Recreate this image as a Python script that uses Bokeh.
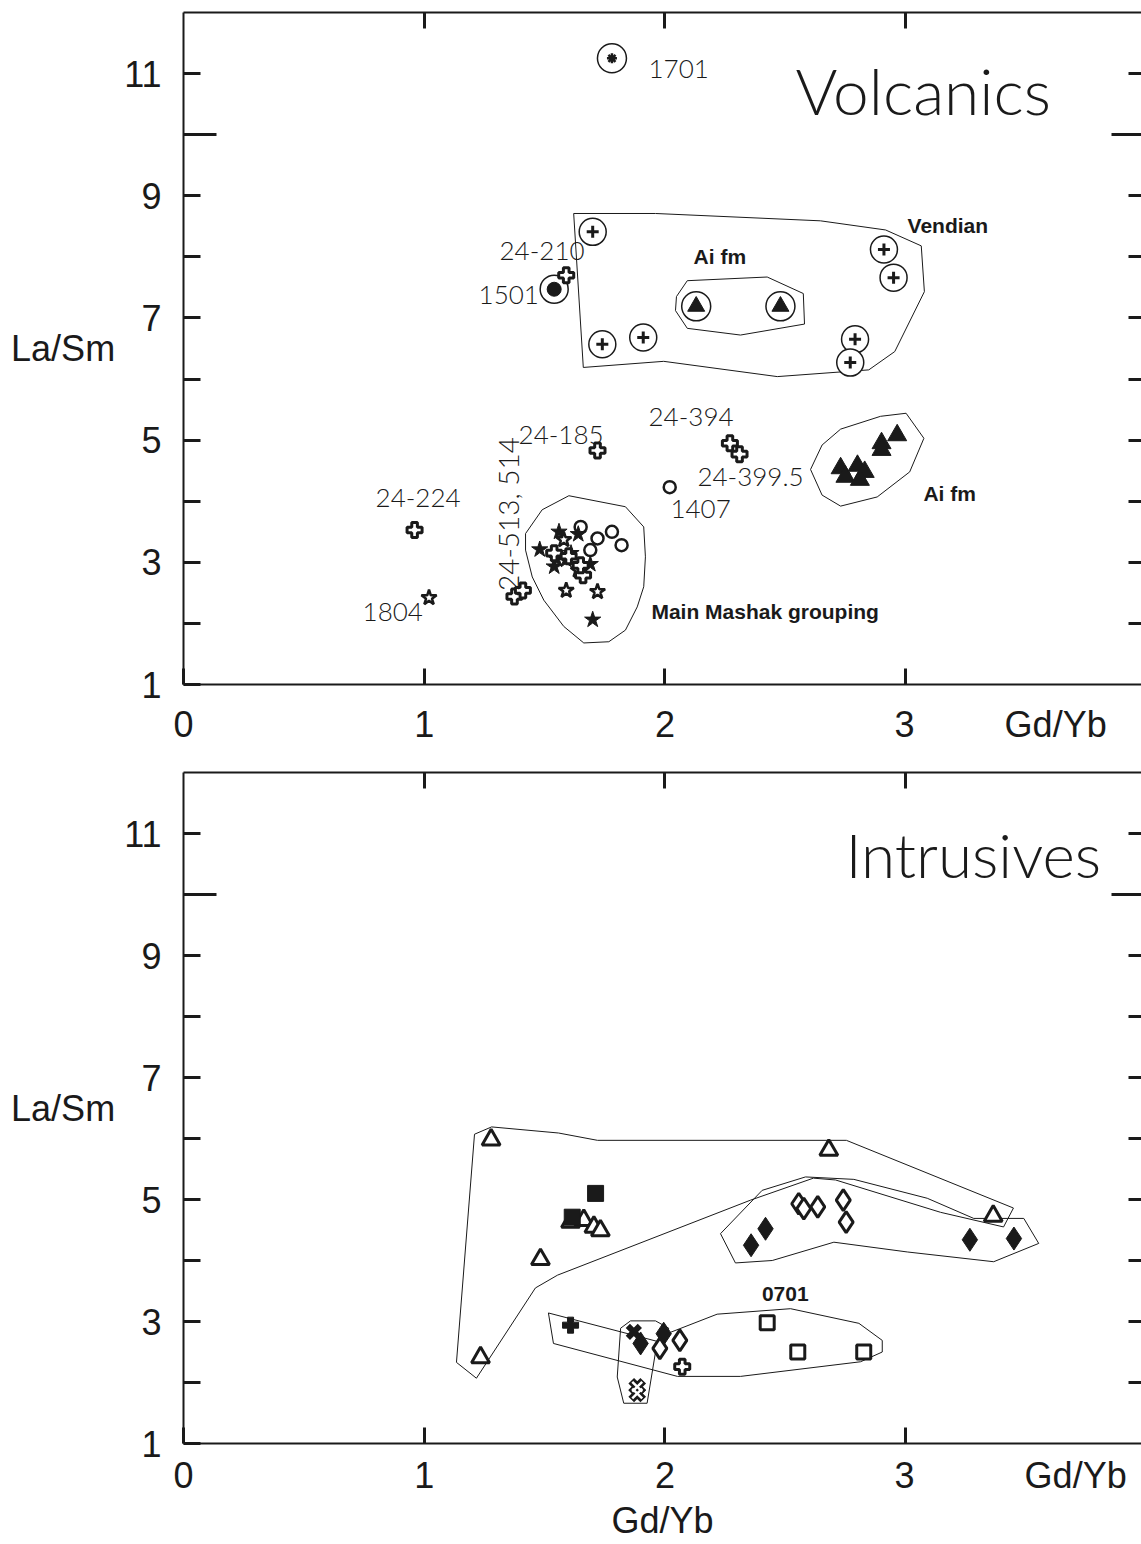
import math
from bokeh.plotting import figure
from bokeh.models import Range1d, LinearAxis, FixedTicker, Label
from bokeh.layouts import column
from bokeh.embed import file_html
from bokeh.resources import INLINE
from bokeh.core.properties import value

# ---------------- Volcanics: Gd/Yb (x) vs La/Sm (y) ----------------
vendian_gdyb = [1.70, 1.74, 1.91, 2.91, 2.95, 2.79, 2.77]
vendian_lasm = [8.41, 6.57, 6.68, 8.12, 7.66, 6.65, 6.27]
aifm_ring_gdyb = [2.13, 2.48]
aifm_ring_lasm = [7.19, 7.19]
aifm_tri_gdyb = [2.965, 2.90, 2.90, 2.73, 2.75, 2.80, 2.83, 2.81]
aifm_tri_lasm = [5.08, 4.95, 4.84, 4.54, 4.40, 4.58, 4.48, 4.35]
s1701_gdyb = [1.78]
s1701_lasm = [11.25]
s1501_gdyb = [1.54]
s1501_lasm = [7.47]
cross_gdyb = [1.59, 1.72, 0.96, 2.27, 2.31, 1.375, 1.41, 1.54, 1.66, 1.60, 1.65]
cross_lasm = [7.70, 4.83, 3.53, 4.95, 4.77, 2.44, 2.54, 3.15, 2.79, 3.10, 2.95]
open_star_gdyb = [1.02, 1.59, 1.72, 1.64, 1.58]
open_star_lasm = [2.42, 2.54, 2.52, 2.87, 3.37]
star_gdyb = [1.48, 1.56, 1.64, 1.54, 1.69, 1.70, 1.59, 1.61, 1.55]
star_lasm = [3.21, 3.50, 3.46, 2.93, 2.97, 2.06, 3.04, 3.15, 3.05]
ring_gdyb = [2.02, 1.65, 1.72, 1.78, 1.82, 1.69]
ring_lasm = [4.23, 3.58, 3.39, 3.50, 3.28, 3.20]

# field outlines (Volcanics)
vendian_field_x = [1.621, 1.961, 2.646, 2.917, 3.065, 3.078, 2.955, 2.847, 2.467, 1.995, 1.661]
vendian_field_y = [8.71, 8.71, 8.59, 8.44, 8.18, 7.43, 6.45, 6.15, 6.04, 6.29, 6.19]
aifm_upper_field_x = [2.093, 2.425, 2.575, 2.580, 2.314, 2.093, 2.044, 2.048]
aifm_upper_field_y = [7.61, 7.67, 7.40, 6.90, 6.72, 6.83, 7.12, 7.35]
aifm_lower_field_x = [2.605, 2.653, 2.730, 2.896, 3.002, 3.076, 3.017, 2.882, 2.730, 2.653]
aifm_lower_field_y = [4.52, 4.92, 5.18, 5.39, 5.44, 5.03, 4.48, 4.07, 3.92, 4.10]
mashak_field_x = [1.421, 1.490, 1.601, 1.836, 1.912, 1.919, 1.912, 1.885, 1.836, 1.767,
                  1.663, 1.580, 1.497, 1.449, 1.421]
mashak_field_y = [3.47, 3.86, 4.09, 3.91, 3.58, 3.09, 2.60, 2.27, 1.89, 1.70,
                  1.68, 1.95, 2.38, 2.76, 3.20]

# sample labels (Volcanics)
volc_ids = ["1701", "24-210", "1501", "24-185", "24-224", "1804", "24-394", "24-399.5", "1407"]
volc_id_x = [1.932, 1.313, 1.226, 1.392, 0.798, 0.744, 1.932, 2.135, 2.023]
volc_id_y = [11.07, 8.09, 7.37, 5.08, 4.05, 2.19, 5.38, 4.40, 3.87]
volc_groups = ["Ai fm", "Vendian", "Ai fm", "Main Mashak grouping"]
volc_group_x = [2.119, 3.008, 3.074, 1.944]
volc_group_y = [8.00, 8.52, 4.13, 2.20]

# ---------------- Intrusives ----------------
open_tri_gdyb = [1.278, 1.483, 1.234, 1.608, 1.663, 1.705, 1.732, 2.681, 3.364]
open_tri_lasm = [5.98, 4.02, 2.41, 4.63, 4.66, 4.55, 4.49, 5.81, 4.73]
sq_gdyb = [1.712, 1.615]
sq_lasm = [5.10, 4.71]
dia_gdyb = [2.358, 2.418, 3.267, 3.450, 1.899, 1.995]
dia_lasm = [4.25, 4.52, 4.34, 4.36, 2.64, 2.80]
open_dia_gdyb = [2.556, 2.577, 2.635, 2.741, 2.753, 1.979, 2.062]
open_dia_lasm = [4.93, 4.85, 4.88, 4.99, 4.63, 2.56, 2.69]
open_sq_gdyb = [2.425, 2.552, 2.826]
open_sq_lasm = [2.98, 2.50, 2.50]
plus_gdyb = [1.608]
plus_lasm = [2.94]
open_plus_gdyb = [2.072]
open_plus_lasm = [2.26]
x_gdyb = [1.871]
x_lasm = [2.83]
open_x_gdyb = [1.885, 1.885]
open_x_lasm = [1.93, 1.82]

# field outlines (Intrusives)
tri_field_x = [1.209, 1.280, 1.558, 1.720, 2.754, 3.448, 3.407, 3.145, 2.709, 2.617,
               2.356, 1.554, 1.462, 1.217, 1.134]
tri_field_y = [6.07, 6.19, 6.09, 5.97, 5.97, 4.86, 4.55, 4.79, 5.32, 5.35,
               4.99, 3.76, 3.55, 2.07, 2.33]
dia_field_x = [2.231, 2.404, 2.584, 2.785, 3.090, 3.283, 3.491, 3.553, 3.366, 3.007,
               2.702, 2.446, 2.293]
dia_field_y = [4.44, 5.15, 5.37, 5.33, 5.02, 4.69, 4.69, 4.28, 3.98, 4.14,
               4.30, 4.00, 3.96]
sq_field_x = [1.516, 1.982, 2.015, 2.217, 2.522, 2.806, 2.903, 2.903, 2.813, 2.314,
              2.052, 1.537]
sq_field_y = [3.14, 2.66, 2.81, 3.12, 3.21, 2.97, 2.69, 2.50, 2.34, 2.10,
              2.10, 2.64]
x_field_x = [1.816, 1.857, 1.961, 2.016, 1.961, 1.926, 1.829, 1.802]
x_field_y = [2.89, 3.01, 3.01, 2.89, 2.50, 1.66, 1.66, 2.09]

intr_groups = ["0701"]
intr_group_x = [2.50]
intr_group_y = [3.45]

y_ticks = [1, 2, 3, 4, 5, 6, 7, 8, 9, 11]
y_long_ticks = [10]
x_ticks = [0, 1, 2, 3]
x_title = "Gd/Yb"

AXIS_FONT = "Liberation Sans"
ID_FONT = value("Lato Light")
X_END = 3.98
INK = "#1a1a1a"
NBSP = "\u00a0"


def make_panel(height, border_bottom, label_standoff, pad_left, pad_right, bottom_title=False):
    p = figure(width=1141, height=height, output_backend="svg", toolbar_location=None,
               x_range=Range1d(0, X_END), y_range=Range1d(1, 12),
               min_border_left=183, min_border_right=0, min_border_top=12,
               min_border_bottom=border_bottom)
    p.outline_line_color = None
    p.xgrid.visible = False
    p.ygrid.visible = False

    xa = p.xaxis[0]
    xa.ticker = FixedTicker(ticks=x_ticks)
    # the variable name sits on the tick-label row, to the right of the last tick
    xa.major_label_overrides = {3: NBSP * pad_left + "3" + NBSP * pad_right + x_title}
    xa.major_tick_in = 16
    xa.major_tick_out = 0
    xa.major_tick_line_width = 3
    xa.major_tick_line_color = INK
    xa.axis_line_width = 2
    xa.axis_line_color = INK
    xa.major_label_text_font = AXIS_FONT
    xa.major_label_text_font_size = "36px"
    xa.major_label_text_color = INK
    xa.major_label_standoff = label_standoff
    if bottom_title:
        xa.axis_label = x_title
        xa.axis_label_text_font = AXIS_FONT
        xa.axis_label_text_font_style = "normal"
        xa.axis_label_text_font_size = "36px"
        xa.axis_label_text_color = INK
        xa.axis_label_standoff = 1

    ya = p.yaxis[0]
    ya.ticker = FixedTicker(ticks=y_ticks, minor_ticks=y_long_ticks)
    ya.major_label_overrides = {2: "", 4: "", 6: "", 8: ""}
    ya.major_tick_in = 17
    ya.major_tick_out = 0
    ya.minor_tick_in = 33
    ya.minor_tick_out = 0
    ya.major_tick_line_width = 3
    ya.minor_tick_line_width = 3
    ya.major_tick_line_color = INK
    ya.minor_tick_line_color = INK
    ya.axis_line_width = 2
    ya.axis_line_color = INK
    ya.major_label_text_font = AXIS_FONT
    ya.major_label_text_font_size = "36px"
    ya.major_label_text_color = INK
    ya.major_label_standoff = 22
    ya.axis_label = "La/Sm"
    ya.axis_label_orientation = "horizontal"
    ya.axis_label_text_font = AXIS_FONT
    ya.axis_label_text_font_style = "normal"
    ya.axis_label_text_font_size = "36px"
    ya.axis_label_text_color = INK
    ya.axis_label_standoff = 6

    top = LinearAxis(ticker=FixedTicker(ticks=[1, 2, 3]),
                     major_label_overrides={1: "", 2: "", 3: ""},
                     major_label_text_font_size="1px", major_label_standoff=0,
                     major_tick_in=16, major_tick_out=0, major_tick_line_width=3,
                     major_tick_line_color=INK, axis_line_width=2, axis_line_color=INK)
    p.add_layout(top, "above")

    right = LinearAxis(ticker=FixedTicker(ticks=y_ticks[1:], minor_ticks=y_long_ticks),
                       major_label_overrides={t: "" for t in y_ticks[1:]},
                       major_label_text_font_size="1px", major_label_standoff=0,
                       major_tick_in=13, major_tick_out=0, minor_tick_in=30, minor_tick_out=0,
                       major_tick_line_width=3, minor_tick_line_width=3,
                       major_tick_line_color=INK, minor_tick_line_color=INK,
                       axis_line_color=None)
    p.add_layout(right, "right")
    return p


def field(p, xs, ys):
    p.patch(xs, ys, fill_alpha=0, line_color=INK, line_width=1)


# ================= Volcanics panel =================
p1 = make_panel(760, 76, 19, 19, 9)

for fx, fy in [(vendian_field_x, vendian_field_y), (aifm_upper_field_x, aifm_upper_field_y),
               (aifm_lower_field_x, aifm_lower_field_y), (mashak_field_x, mashak_field_y)]:
    field(p1, fx, fy)

# circled symbols
p1.scatter(vendian_gdyb, vendian_lasm, marker="circle", size=27, fill_color="white",
           line_color=INK, line_width=1.5)
p1.scatter(vendian_gdyb, vendian_lasm, marker="cross", size=12, line_color=INK, line_width=3)
p1.scatter(aifm_ring_gdyb, aifm_ring_lasm, marker="circle", size=29, fill_color="white",
           line_color=INK, line_width=1.5)
p1.scatter(aifm_ring_gdyb, aifm_ring_lasm, marker="triangle", size=17, fill_color=INK,
           line_color=INK)
p1.scatter(s1701_gdyb, s1701_lasm, marker="circle", size=29, fill_color="white",
           line_color=INK, line_width=1.5)
p1.scatter(s1701_gdyb, s1701_lasm, marker="asterisk", size=10, line_color=INK, line_width=2.5)
p1.scatter(s1501_gdyb, s1501_lasm, marker="circle", size=28, fill_color="white",
           line_color=INK, line_width=1.5)
p1.scatter(s1501_gdyb, s1501_lasm, marker="circle", size=14, fill_color=INK, line_color=INK)

# plain symbols
p1.scatter(aifm_tri_gdyb, aifm_tri_lasm, marker="triangle", size=19, fill_color=INK,
           line_color=INK)
p1.scatter(ring_gdyb, ring_lasm, marker="circle", size=12, fill_color="white",
           line_color=INK, line_width=2.5)
p1.scatter(star_gdyb, star_lasm, marker="star", size=17, fill_color=INK, line_color=INK)
p1.scatter(open_star_gdyb, open_star_lasm, marker="star", size=16, fill_color="white",
           line_color=INK, line_width=2.5)
p1.scatter(cross_gdyb, cross_lasm, marker="plus", size=15, fill_color="white",
           line_color=INK, line_width=3)

p1.text(volc_id_x, volc_id_y, text=volc_ids, text_font=ID_FONT, text_font_size="26px",
        text_color=INK, text_align="left", text_baseline="middle")
p1.text([1.350], [3.79], text=["24-513, 514"], angle=math.pi / 2, text_font=ID_FONT,
        text_font_size="28px", text_color=INK, text_align="center", text_baseline="middle")
p1.text(volc_group_x, volc_group_y, text=volc_groups, text_font=value(AXIS_FONT),
        text_font_style="bold", text_font_size="21px", text_color=INK,
        text_align="left", text_baseline="middle")

p1.add_layout(Label(x=2.543, y=11.35, text="Volcanics", text_font="Lato Light",
                    text_font_size="64px", text_color=INK, text_baseline="top"))

# ================= Intrusives panel =================
p2 = make_panel(784, 101, 11, 21, 11, bottom_title=True)

for fx, fy in [(tri_field_x, tri_field_y), (dia_field_x, dia_field_y),
               (sq_field_x, sq_field_y), (x_field_x, x_field_y)]:
    field(p2, fx, fy)

p2.scatter(open_tri_gdyb, open_tri_lasm, marker="triangle", size=18, fill_color="white",
           line_color=INK, line_width=3)
p2.scatter(sq_gdyb, sq_lasm, marker="square", size=16, fill_color=INK, line_color=INK)
p2.scatter(dia_gdyb, dia_lasm, marker="diamond", size=23, fill_color=INK, line_color=INK)
p2.scatter(open_dia_gdyb, open_dia_lasm, marker="diamond", size=21, fill_color="white",
           line_color=INK, line_width=3)
p2.scatter(open_sq_gdyb, open_sq_lasm, marker="square", size=14, fill_color="white",
           line_color=INK, line_width=3)
p2.scatter(plus_gdyb, plus_lasm, marker="plus", size=16, fill_color=INK, line_color=INK)
p2.scatter(open_plus_gdyb, open_plus_lasm, marker="plus", size=15, fill_color="white",
           line_color=INK, line_width=3)
p2.scatter(x_gdyb, x_lasm, marker="x", size=17, line_color=INK, line_width=6)
p2.scatter(open_x_gdyb, open_x_lasm, marker="x", size=17, line_color=INK, line_width=8)
p2.scatter(open_x_gdyb, open_x_lasm, marker="x", size=14, line_color="white", line_width=2.5)

p2.text(intr_group_x, intr_group_y, text=intr_groups, text_font=value(AXIS_FONT),
        text_font_style="bold", text_font_size="21px", text_color=INK,
        text_align="center", text_baseline="middle")

p2.add_layout(Label(x=2.750, y=11.27, text="Intrusives", text_font="Lato Light",
                    text_font_size="62px", text_color=INK, text_baseline="top"))

layout = column(p1, p2)
open("out.html", "w").write(file_html(layout, INLINE))
